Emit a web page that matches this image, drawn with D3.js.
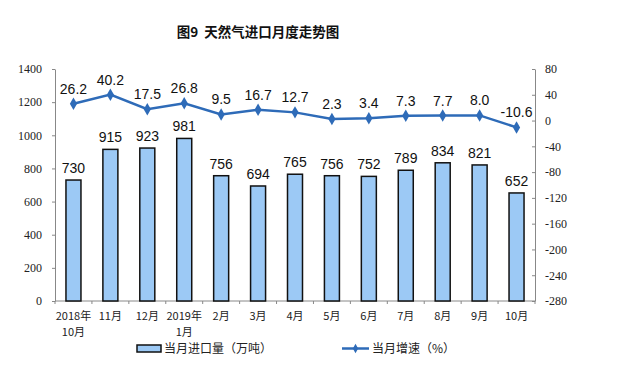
<!DOCTYPE html>
<html><head><meta charset="utf-8">
<script src="https://cdn.jsdelivr.net/npm/d3@7"></script>
<style>body{margin:0;background:#fff}</style>
</head><body>
<svg id="c" width="632" height="381"></svg>
<script>
const categories = ["2018年\n10月","11月","12月","2019年\n1月","2月","3月","4月","5月","6月","7月","8月","9月","10月"];
const imports = [730,915,923,981,756,694,765,756,752,789,834,821,652];
const growth = [26.2,40.2,17.5,26.8,9.5,16.7,12.7,2.3,3.4,7.3,7.7,8.0,-10.6];
const leftTicks = [0,200,400,600,800,1000,1200,1400];
const rightTicks = [80,40,0,-40,-80,-120,-160,-200,-240,-280];

const svg = d3.select("#c");
const m = {l:55, r:535, t:69, b:301};
const x = d3.scaleBand().domain(d3.range(categories.length)).range([m.l,m.r]);
const yL = d3.scaleLinear().domain([0,1400]).range([m.b,m.t]);
const yR = d3.scaleLinear().domain([-280,80]).range([m.b,m.t]);
const cjk = "'Noto Sans CJK SC', sans-serif";
const fmt = d => String(d);

svg.append("text").attr("x",258).attr("y",37).attr("text-anchor","middle")
  .attr("font-family",cjk).attr("font-size",13.5).attr("font-weight","bold").attr("fill","#111")
  .style("white-space","pre")
  .text("图9  天然气进口月度走势图");

// left axis
const gl = svg.append("g").attr("transform",`translate(${m.l},0)`)
  .call(d3.axisLeft(yL).tickValues(leftTicks).tickFormat(fmt).tickSize(3).tickSizeOuter(0));
gl.select(".domain").attr("stroke","#888");
gl.selectAll(".tick line").attr("stroke","#888");
gl.selectAll(".tick text").attr("font-family","'Liberation Serif', serif").attr("font-size",12).attr("fill","#222").attr("x",-13);

// right axis
const gr = svg.append("g").attr("transform",`translate(${m.r},0)`)
  .call(d3.axisRight(yR).tickValues(rightTicks).tickFormat(fmt).tickSize(-3).tickSizeOuter(0));
gr.select(".domain").attr("stroke","#888");
gr.selectAll(".tick line").attr("stroke","#888");
gr.selectAll(".tick text").attr("font-family","'Liberation Serif', serif").attr("font-size",12).attr("fill","#222").attr("x",10);

// bottom axis
svg.append("line").attr("x1",m.l).attr("x2",m.r).attr("y1",m.b).attr("y2",m.b).attr("stroke","#888");
svg.selectAll(".bt").data(d3.range(categories.length+1)).join("line")
  .attr("x1",i=>m.l+i*x.step()).attr("x2",i=>m.l+i*x.step())
  .attr("y1",m.b).attr("y2",m.b+3).attr("stroke","#888");

// x labels
categories.forEach((c,i)=>{
  const t = svg.append("text").attr("text-anchor","middle").attr("font-family",cjk).attr("font-size",11).attr("fill","#222");
  c.split("\n").forEach((s,j)=>t.append("tspan").attr("x",x(i)+x.bandwidth()/2).attr("y",320+j*16).text(s));
});

// bars
const bw = 15;
svg.selectAll(".bar").data(imports).join("rect")
  .attr("x",(d,i)=>x(i)+x.bandwidth()/2-bw/2).attr("width",bw)
  .attr("y",d=>yL(d)).attr("height",d=>m.b-yL(d))
  .attr("fill","#9cc9f5").attr("stroke","#111").attr("stroke-width",1.5);
svg.selectAll(".bl").data(imports).join("text")
  .attr("x",(d,i)=>x(i)+x.bandwidth()/2).attr("y",d=>yL(d)-7)
  .attr("text-anchor","middle").attr("font-family","'Liberation Sans', Arial, sans-serif").attr("font-size",14).attr("fill","#111")
  .text(d=>d);

// line
const line = d3.line().x((d,i)=>x(i)+x.bandwidth()/2).y(d=>yR(d));
svg.append("path").datum(growth).attr("d",line).attr("fill","none").attr("stroke","#2e6bb8").attr("stroke-width",2.5);
const sym = d3.symbol().type(d3.symbolDiamond).size(45);
svg.selectAll(".pt").data(growth).join("path")
  .attr("transform",(d,i)=>`translate(${x(i)+x.bandwidth()/2},${yR(d)})`).attr("d",sym).attr("fill","#2e6bb8");
svg.selectAll(".gl").data(growth).join("text")
  .attr("x",(d,i)=>x(i)+x.bandwidth()/2).attr("y",d=>yR(d)-10)
  .attr("text-anchor","middle").attr("font-family","'Liberation Sans', Arial, sans-serif").attr("font-size",14).attr("fill","#111")
  .text(d=>d.toFixed(1));

// legend
svg.append("rect").attr("x",137).attr("y",345).attr("width",24).attr("height",7).attr("fill","#9cc9f5").attr("stroke","#111").attr("stroke-width",1.5);
svg.append("text").attr("x",164).attr("y",353).attr("font-family",cjk).attr("font-size",12).attr("fill","#222").text("当月进口量（万吨）");
svg.append("line").attr("x1",342).attr("x2",369).attr("y1",348.5).attr("y2",348.5).attr("stroke","#2e6bb8").attr("stroke-width",2.5);
svg.append("path").attr("transform","translate(355.5,348.5)").attr("d",d3.symbol().type(d3.symbolDiamond).size(25)).attr("fill","#2e6bb8");
svg.append("text").attr("x",372).attr("y",353).attr("font-family",cjk).attr("font-size",12).attr("fill","#222").text("当月增速（%）");
</script>
</body></html>
